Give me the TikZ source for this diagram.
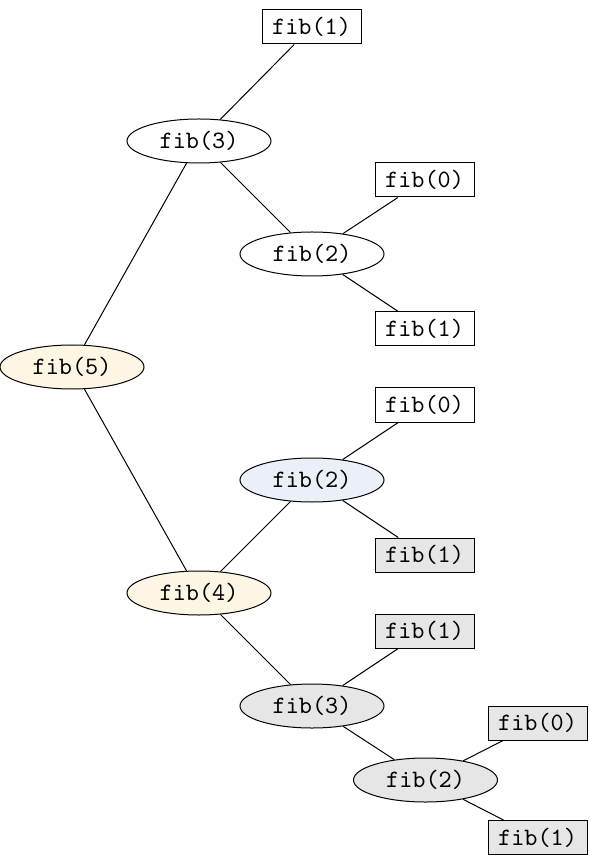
\documentclass[tikz,border=0pt]{standalone}
\usetikzlibrary{shapes.geometric}
\definecolor{ylw}{HTML}{FEF6E4}
\definecolor{blu}{HTML}{EBF0F8}
\definecolor{gry}{HTML}{E6E6E6}
\begin{document}
\begin{tikzpicture}[x=0.4pt,y=-0.4pt,
  call/.style={ellipse,draw,minimum width=57.6pt,minimum height=17.6pt,inner sep=0pt,font=\ttfamily},
  leaf/.style={rectangle,draw,minimum width=39.6pt,minimum height=13.6pt,inner sep=0pt,font=\ttfamily},
  edge/.style={draw,line width=0.4pt}]
\useasboundingbox (0,0) rectangle (590,857);
\node[call,fill=ylw] (f5) at (72,367) {fib(5)};
\node[call] (f3a) at (199,141) {fib(3)};
\node[leaf] (f1a) at (311.5,27) {fib(1)};
\node[call] (f2a) at (312,254) {fib(2)};
\node[leaf] (f0a) at (424.5,180) {fib(0)};
\node[leaf] (f1b) at (424.5,329) {fib(1)};
\node[call,fill=ylw] (f4) at (199,593) {fib(4)};
\node[call,fill=blu] (f2b) at (312,480) {fib(2)};
\node[leaf] (f0b) at (424.5,405) {fib(0)};
\node[leaf,fill=gry] (f1c) at (424.5,555) {fib(1)};
\node[call,fill=gry] (f3b) at (312,706) {fib(3)};
\node[leaf,fill=gry] (f1d) at (424.5,631) {fib(1)};
\node[call,fill=gry] (f2c) at (425.5,780) {fib(2)};
\node[leaf,fill=gry] (f0c) at (537.5,723) {fib(0)};
\node[leaf,fill=gry] (f1e) at (537.5,837.5) {fib(1)};
\draw[edge] (f5) -- (f3a);
\draw[edge] (f5) -- (f4);
\draw[edge] (f3a) -- (f1a);
\draw[edge] (f3a) -- (f2a);
\draw[edge] (f2a) -- (f0a);
\draw[edge] (f2a) -- (f1b);
\draw[edge] (f4) -- (f2b);
\draw[edge] (f4) -- (f3b);
\draw[edge] (f2b) -- (f0b);
\draw[edge] (f2b) -- (f1c);
\draw[edge] (f3b) -- (f1d);
\draw[edge] (f3b) -- (f2c);
\draw[edge] (f2c) -- (f0c);
\draw[edge] (f2c) -- (f1e);
\end{tikzpicture}
\end{document}
